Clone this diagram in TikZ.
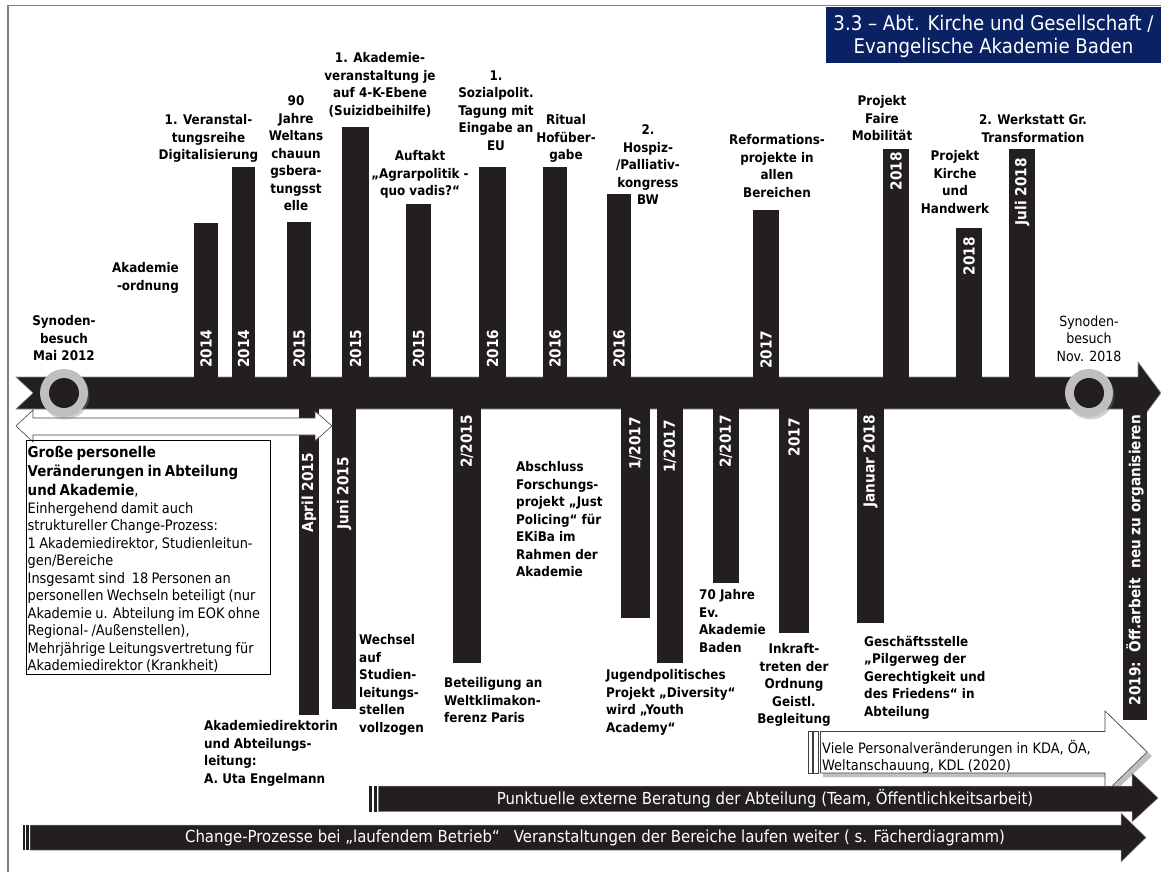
\documentclass[tikz,border=0pt]{standalone}
\usepackage{fontspec}
\setmainfont{DejaVu Sans Condensed}
\usetikzlibrary{shadows}
\definecolor{barblack}{HTML}{231F20}
\definecolor{navy}{HTML}{0A2263}
\definecolor{ringgray}{HTML}{BFBFBF}
\definecolor{framegray}{HTML}{808080}
\begin{document}
\begin{tikzpicture}[x=1pt,y=-1pt,
  bar/.style={fill=barblack},
  toplbl/.style={inner sep=0, anchor=north, align=center, yshift=7.5pt,
    font=\bfseries\fontsize{13.3}{17.5}\selectfont, execute at begin node=\strut},
  botlbl/.style={toplbl, anchor=north west, align=left},
  yr/.style={rotate=90, inner sep=0, text=white, font=\bfseries\fontsize{15.2}{18}\selectfont},
  ring/.style={circle, fill=ringgray, minimum size=48, inner sep=0,
    drop shadow={opacity=0.35, shadow xshift=1.5pt, shadow yshift=-2.5pt}},
  ringcore/.style={circle, fill=barblack, minimum size=30, inner sep=0},
  whitearrow/.style={fill=white, draw=black!75, line width=0.6},
  arrowtext/.style={inner sep=0, text=white, font=\fontsize{16.6}{18}\selectfont}
]
\useasboundingbox (0,0) rectangle (1161,872);
% frame
\draw[framegray, line width=1.5] (8,872) -- (8,5.5) -- (1161,5.5);
% title
\fill[navy] (826,7) rectangle (1161,63);
\node[inner sep=0, text=white, align=center, font=\fontsize{20.2}{23}\selectfont] (title) at (993.5,36)
  {3.3 – Abt. Kirche und Gesellschaft /\\Evangelische Akademie Baden};

% main timeline band
\fill[barblack, draw=black!45, line width=0.6] (16,377) -- (1138,377) -- (1138,362) -- (1161,393) -- (1138,424) -- (1138,409) -- (16,409) -- (33,393) -- cycle;

% bars above
\foreach \a/\b/\t in {194/218/223, 232/255/167, 287/311/222, 342/369/127, 406/431/204,
  479/506/167, 543/567/167, 607/631/194, 753/779/210, 883/909/149, 956/982/228, 1009/1035/149}
  \fill[bar] (\a,\t) rectangle (\b,378);
% bars below
\foreach \a/\b/\t in {299/319/715, 332/356/709, 453/481/663, 621/650/618, 657/683/663,
  713/739/583, 779/809/633, 857/884/623, 1123/1147/720}
  \fill[bar] (\a,408) rectangle (\b,\t);

% white double arrow
\filldraw[whitearrow] (16,426) -- (33,410) -- (33,418) -- (315,418) -- (315,411) -- (332,426)
  -- (315,441) -- (315,435) -- (33,435) -- (33,442) -- cycle;

% rings
\node[ring] (ringL) at (64,393) {};
\node[ringcore] (coreL) at (64,393) {};
\node[ring] (ringR) at (1089,393) {};
\node[ringcore] (coreR) at (1089,393) {};

% year labels above the band
\node[yr, anchor=west] (yA) at (206,368) {2014};
\node[yr, anchor=west] (yB) at (243.5,368) {2014};
\node[yr, anchor=west] (yC) at (299,368) {2015};
\node[yr, anchor=west] (yD) at (355.5,368) {2015};
\node[yr, anchor=west] (yE) at (418.5,368) {2015};
\node[yr, anchor=west] (yF) at (492.5,368) {2016};
\node[yr, anchor=west] (yG) at (555,368) {2016};
\node[yr, anchor=west] (yH) at (619,368) {2016};
\node[yr, anchor=west] (yI) at (766,369) {2017};
\node[yr, anchor=east] (yJ) at (896,152) {2018};
\node[yr, anchor=east] (yK) at (969,237) {2018};
\node[yr, anchor=east] (yL) at (1022,158) {Juli 2018};
% year labels below the band
\node[yr, anchor=east] (yM) at (309,453) {April 2015};
\node[yr, anchor=east] (yN) at (344,457) {Juni 2015};
\node[yr, anchor=east] (yO) at (467,415) {2/2015};
\node[yr, anchor=east] (yP) at (635.5,417) {1/2017};
\node[yr, anchor=east] (yQ) at (670,420) {1/2017};
\node[yr, anchor=east] (yR) at (726,415) {2/2017};
\node[yr, anchor=east] (yS) at (794,418) {2017};
\node[yr, anchor=east] (yT) at (870.5,415) {Januar 2018};
\node[yr, anchor=east] (yU) at (1135,415) {2019:\ \ Öff.arbeit\ \ neu zu organisieren};

% labels above
\node[toplbl, anchor=north east, align=right] (tAkO) at (179,270) {Akademie\\-ordnung};
\node[toplbl] (tDig) at (208.5,122) {1. Veranstal-\\tungsreihe\\Digitalisierung};
\node[toplbl] (t90) at (296,103) {90\\Jahre\\Weltans\\chauun\\gsbera-\\tungsst\\elle};
\node[toplbl] (tSui) at (380,60) {1. Akademie-\\veranstaltung je\\auf 4-K-Ebene\\(Suizidbeihilfe)};
\node[toplbl] (tAgr) at (420,158) {Auftakt\\„Agrarpolitik -\\quo vadis?“};
\node[toplbl] (tSoz) at (496,78) {1.\\Sozialpolit.\\Tagung mit\\Eingabe an\\EU};
\node[toplbl] (tRit) at (566,122) {Ritual\\Hofüber-\\gabe};
\node[toplbl] (tHos) at (648,132) {2.\\Hospiz-\\/Palliativ-\\kongress\\BW};
\node[toplbl] (tRef) at (777,142) {Reformations-\\projekte in\\allen\\Bereichen};
\node[toplbl] (tFai) at (882,103) {Projekt\\Faire\\Mobilität};
\node[toplbl] (tHan) at (955,158) {Projekt\\Kirche\\und\\Handwerk};
\node[toplbl] (tWer) at (1033,122) {2. Werkstatt Gr.\\Transformation};
\node[toplbl] (tSyn1) at (64,323) {Synoden-\\besuch\\Mai 2012};
\node[toplbl, font=\fontsize{14}{17.5}\selectfont] (tSyn2) at (1089,323) {Synoden-\\besuch\\Nov. 2018};

% box
\node[draw=black, line width=0.7, anchor=north west, minimum width=244, minimum height=234, inner sep=0] (box) at (26,440) {};
\node[inner sep=0, anchor=north west, text width=270, align=left] (boxtext) at (27.5,444)
  {\fontsize{14.9}{19}\selectfont\bfseries\strut Große personelle\\Veränderungen in Abteilung\\und Akademie\mdseries,\par
   \fontsize{14.4}{17.5}\selectfont Einhergehend damit auch\\struktureller Change-Prozess:\\1 Akademiedirektor, Studienleitun-\\gen/Bereiche\\Insgesamt sind\ \ 18 Personen an\\personellen Wechseln beteiligt (nur\\Akademie u. Abteilung im EOK ohne\\Regional- /Außenstellen),\\Mehrjährige Leitungsvertretung für\\Akademiedirektor (Krankheit)\par};

% labels below
\node[botlbl] (tDir) at (204,728) {Akademiedirektorin\\und Abteilungs-\\leitung:\\A. Uta Engelmann};
\node[botlbl] (tWec) at (359,642) {Wechsel\\auf\\Studien-\\leitungs-\\stellen\\vollzogen};
\node[botlbl] (tBet) at (444,685) {Beteiligung an\\Weltklimakon-\\ferenz Paris};
\node[botlbl] (tAbs) at (516,469) {Abschluss\\Forschungs-\\projekt „Just\\Policing“ für\\EKiBa im\\Rahmen der\\Akademie};
\node[botlbl] (tJug) at (606,677) {Jugendpolitisches\\Projekt „Diversity“\\wird „Youth\\Academy“};
\node[botlbl] (t70) at (699,597) {70 Jahre\\Ev.\\Akademie\\Baden};
\node[toplbl] (tInk) at (794,651) {Inkraft-\\treten der\\Ordnung\\Geistl.\\Begleitung};
\node[botlbl] (tGes) at (864,643) {Geschäftsstelle\\„Pilgerweg der\\Gerechtigkeit und\\des Friedens“ in\\Abteilung};

% white arrow "Viele Personalveränderungen"
\fill[black!25] (823,735) -- (1109,735) -- (1109,714) -- (1152,756) -- (1109,797) -- (1109,777) -- (823,777) -- cycle;
\filldraw[whitearrow] (808.3,731.5) rectangle (812.3,773);
\filldraw[whitearrow] (813.5,731.5) rectangle (818.3,773);
\filldraw[whitearrow] (820.5,731.5) -- (1105,731.5) -- (1105,711) -- (1147,752) -- (1105,793) -- (1105,773) -- (820.5,773) -- cycle;
\node[inner sep=0, anchor=north west, align=left, font=\fontsize{14.4}{17}\selectfont, execute at begin node=\strut, yshift=7.2pt] (tVie) at (822,747)
  {Viele Personalveränderungen in KDA, ÖA,\\Weltanschauung, KDL (2020)};

% black arrow "Punktuelle"
\fill[barblack] (369.3,786) rectangle (372.3,811.5);
\fill[barblack] (373.6,786) rectangle (376.8,811.5);
\fill[barblack, draw=black!45, line width=0.5] (378.3,786) -- (1132,786) -- (1132,773) -- (1158,798) -- (1132,822) -- (1132,811.5) -- (378.3,811.5) -- cycle;
\node[arrowtext] (tPun) at (765,799) {Punktuelle externe Beratung der Abteilung (Team, Öffentlichkeitsarbeit)};

% black arrow "Change-Prozesse"
\fill[barblack] (22.5,825) rectangle (24.8,850);
\fill[barblack] (26.3,825) rectangle (28.8,850);
\fill[barblack, draw=black!45, line width=0.5] (30,825) -- (1121,825) -- (1121,813) -- (1146,837.5) -- (1121,862) -- (1121,850) -- (30,850) -- cycle;
\node[arrowtext] (tCha) at (595,838) {Change-Prozesse bei „laufendem Betrieb“\ \ \ Veranstaltungen der Bereiche laufen weiter ( s. Fächerdiagramm)};
\end{tikzpicture}
\end{document}
